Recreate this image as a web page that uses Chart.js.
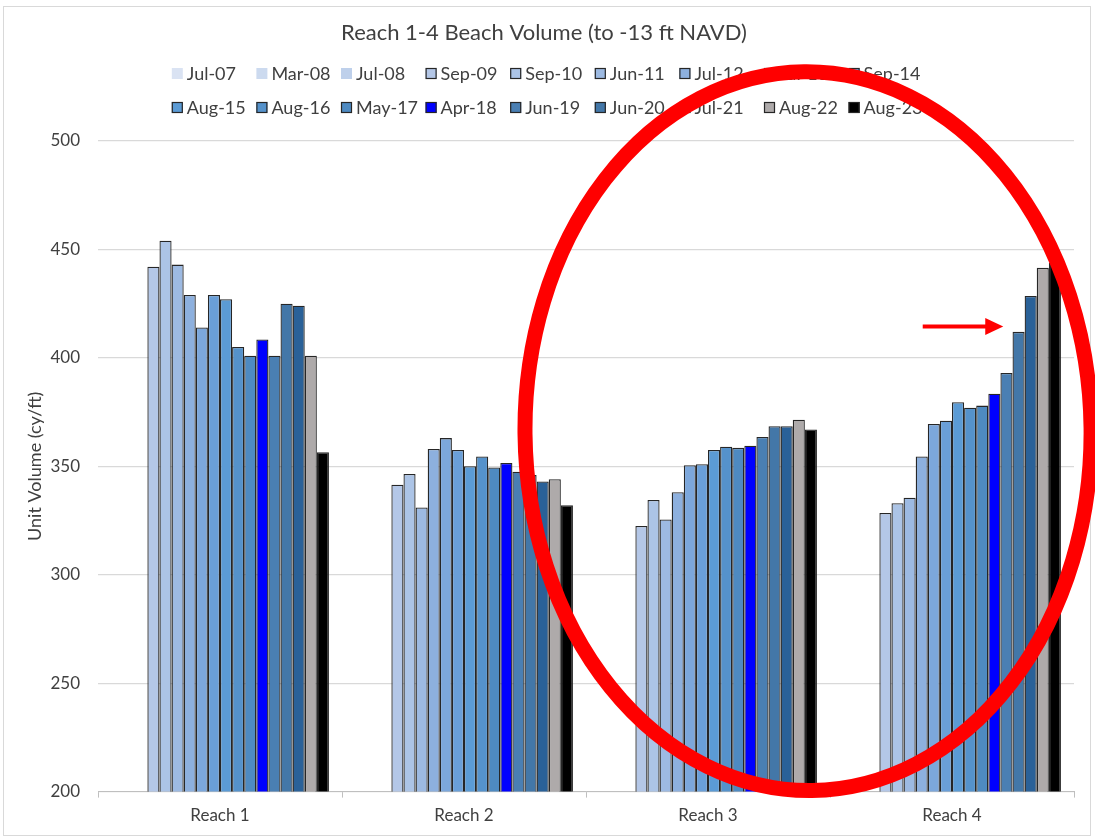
<!DOCTYPE html>
<html>
<head>
<meta charset="utf-8">
<script src="https://cdn.jsdelivr.net/npm/chart.js@4"></script>
<style>
  body { margin: 0; background: #fff; }
  #wrap { width: 1095px; height: 837px; position: relative; }
</style>
</head>
<body>
<div id="wrap"><canvas id="beachVolumeChart"></canvas></div>
<script>
// categories on the x axis
const reaches = ['Reach 1', 'Reach 2', 'Reach 3', 'Reach 4'];

// survey dates (one series each)
const surveys = [
  'Jul-07', 'Mar-08', 'Jul-08', 'Sep-09', 'Sep-10', 'Jun-11', 'Jul-12', 'Jul-13', 'Sep-14',
  'Aug-15', 'Aug-16', 'May-17', 'Apr-18', 'Jun-19', 'Jun-20', 'Jul-21', 'Aug-22', 'Aug-23'
];

// unit volume (cy/ft) per reach, one value per survey (first three surveys not plotted)
const reach1 = [null, null, null, 442, 454, 443, 429, 414, 429, 427, 405, 401, 408.5, 401, 425, 424, 401, 356.5];
const reach2 = [null, null, null, 341.5, 346.5, 331, 358, 363, 357.5, 350, 354.5, 349.5, 351.5, 347.5, 346, 343, 344, 332];
const reach3 = [null, null, null, 322.5, 334.5, 325.5, 338, 350.5, 351, 357.5, 359, 358.5, 359.5, 363.5, 368.5, 368.5, 371.5, 367];
const reach4 = [null, null, null, 328.5, 333, 335.5, 354.5, 369.5, 371, 379.5, 377, 378, 383.5, 393, 412, 428.5, 441.5, 444];

const seriesColors = [
  '#DAE3F3', '#CCDAEF', '#BED0EB', '#B4C7E7', '#ACC4E6', '#9DBAE2', '#8DB0DE', '#7CA7DB', '#6A9FD8',
  '#5B9BD5', '#5592CB', '#4E8AC1', '#0000FF', '#4A7FB3', '#4377A8', '#2A6198', '#AEAAAA', '#000000'
];

// y axis range
const yMin = 200;
const yMax = 500;
const yStep = 50;

const textColor = '#404040';
const fontFamily = 'Lato, "Open Sans", sans-serif';

const perReach = [reach1, reach2, reach3, reach4];
const datasets = surveys.map((label, i) => ({
  label: label,
  data: perReach.map(r => r[i]),
  backgroundColor: seriesColors[i],
  borderColor: i < 3 ? seriesColors[i] : '#262626',
  borderWidth: i < 3 ? 0 : 1.3,
  barPercentage: 1,
  categoryPercentage: 0.893
}));

// legend drawn as a 9 column grid like the spreadsheet one
const gridLegend = {
  id: 'gridLegend',
  afterDraw(chart) {
    const ctx = chart.ctx;
    const cols = 9;
    const colWidth = 84.6;
    const left = (chart.width - cols * colWidth) / 2 + 5;
    ctx.save();
    ctx.font = '18px ' + fontFamily;
    ctx.textBaseline = 'middle';
    chart.data.datasets.forEach((ds, i) => {
      const x = left + (i % cols) * colWidth;
      const y = 73 + Math.floor(i / cols) * 34;
      ctx.fillStyle = ds.backgroundColor;
      ctx.fillRect(x, y - 5, 11, 11);
      if (ds.borderWidth > 0) {
        ctx.strokeStyle = ds.borderColor;
        ctx.lineWidth = 1.2;
        ctx.strokeRect(x + 0.5, y - 4.5, 10, 10);
      }
      ctx.fillStyle = textColor;
      ctx.fillText(ds.label, x + 15, y + 1);
    });
    ctx.restore();
  }
};

// frame, red ellipse + arrow (placed in data units)
const markup = {
  id: 'markup',
  afterDraw(chart) {
    const ctx = chart.ctx;
    const xs = chart.scales.x;
    const ys = chart.scales.y;
    const catW = xs.getPixelForValue(1) - xs.getPixelForValue(0);
    const pxPerUnit = ys.getPixelForValue(yMin) - ys.getPixelForValue(yMin + 1);

    ctx.save();
    ctx.strokeStyle = '#d9d9d9';
    ctx.lineWidth = 1;
    ctx.strokeRect(3.5, 6.5, chart.width - 8, chart.height - 8);

    ctx.strokeStyle = '#FF0000';
    ctx.lineWidth = 15;
    ctx.beginPath();
    ctx.ellipse(xs.getPixelForValue(2.41), ys.getPixelForValue(366.2),
      1.16 * catW, 165.7 * pxPerUnit, -0.011, 0, Math.PI * 2);
    ctx.stroke();

    const ay = ys.getPixelForValue(414.5);
    const ax0 = xs.getPixelForValue(2.88);
    const ax1 = xs.getPixelForValue(3.21);
    ctx.lineWidth = 4;
    ctx.beginPath();
    ctx.moveTo(ax0, ay);
    ctx.lineTo(ax1 - 16, ay);
    ctx.stroke();
    ctx.fillStyle = '#FF0000';
    ctx.beginPath();
    ctx.moveTo(ax1, ay);
    ctx.lineTo(ax1 - 18, ay - 8.5);
    ctx.lineTo(ax1 - 18, ay + 8.5);
    ctx.closePath();
    ctx.fill();
    ctx.restore();
  }
};

const ctx = document.getElementById('beachVolumeChart').getContext('2d');
const chart = new Chart(ctx, {
  type: 'bar',
  data: { labels: reaches, datasets: datasets },
  options: {
    responsive: true,
    maintainAspectRatio: false,
    animation: false,
    devicePixelRatio: 1,
    layout: { padding: { top: 20, left: 14, right: 21, bottom: 3 } },
    plugins: {
      legend: { display: false },
      tooltip: { enabled: false },
      title: {
        display: true,
        text: 'Reach 1-4 Beach Volume (to -13 ft NAVD)',
        color: textColor,
        font: { family: fontFamily, size: 22, weight: 'normal' },
        padding: { top: 0, bottom: 94.6 }
      }
    },
    scales: {
      x: {
        grid: { display: true, drawOnChartArea: false, tickLength: 6, color: '#bfbfbf', offset: true },
        border: { color: '#bfbfbf', width: 1 },
        ticks: { color: textColor, padding: 8, font: { family: fontFamily, size: 17 } }
      },
      y: {
        min: yMin,
        max: yMax,
        afterFit(scale) { scale.width = 84; },
        grid: { color: '#d9d9d9', lineWidth: 1.3, drawTicks: false },
        border: { display: false },
        ticks: { stepSize: yStep, color: textColor, padding: 18, font: { family: fontFamily, size: 17 } },
        title: {
          display: true,
          text: 'Unit Volume (cy/ft)',
          color: textColor,
          font: { family: fontFamily, size: 18 },
          padding: { top: 10, bottom: 0 }
        }
      }
    }
  },
  plugins: [gridLegend, markup]
});
</script>
</body>
</html>
